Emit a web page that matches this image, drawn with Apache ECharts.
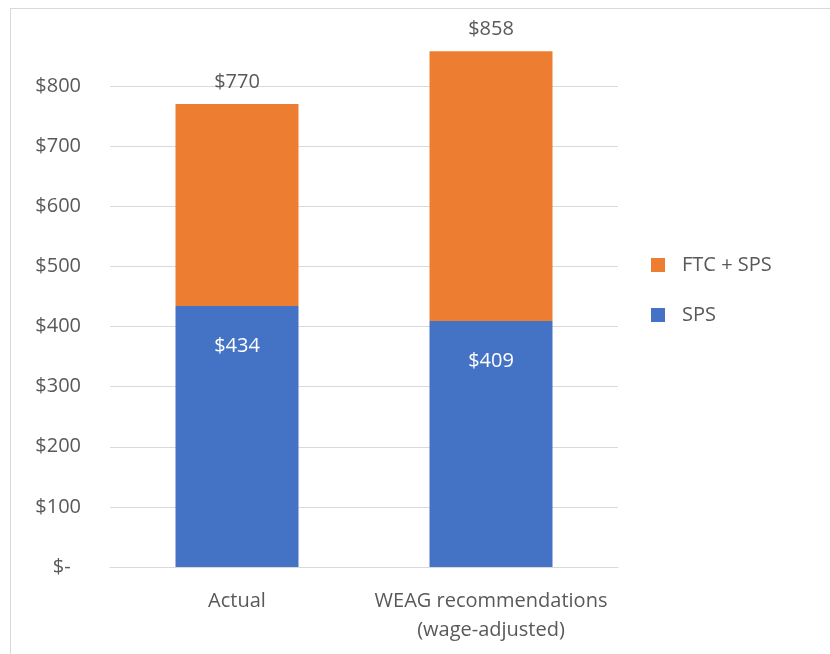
<!DOCTYPE html>
<html>
<head>
<meta charset="utf-8">
<script src="https://cdn.jsdelivr.net/npm/echarts@6/dist/echarts.min.js"></script>
<style>
  html, body { margin: 0; padding: 0; background: #fff; }
  #wrap { position: relative; width: 830px; height: 654px; overflow: hidden; }
  #frame { position: absolute; left: 10px; top: 8px; width: 840px; height: 680px; border: 1px solid #d9d9d9; box-sizing: border-box; }
  #chart { position: absolute; left: 0; top: 0; width: 830px; height: 654px; }
</style>
</head>
<body>
<div id="wrap">
  <div id="frame"></div>
  <div id="chart"></div>
</div>
<script>
// --- data ---
const categories = ['Actual', 'WEAG recommendations\n(wage-adjusted)'];
const spsValues = [434, 409];
const totalValues = [770, 858];
const ftcValues = totalValues.map((t, i) => t - spsValues[i]); // FTC + SPS segment on top

const COLORS = {
  sps: '#4472C4',
  ftc: '#ED7D31',
  text: '#595959',
  grid: '#d9d9d9'
};
const FONT = '"Open Sans", sans-serif';
const FS = 20;

const chart = echarts.init(document.getElementById('chart'));

chart.setOption({
  animation: false,
  backgroundColor: 'transparent',
  grid: { left: 110, right: 212, top: 86, bottom: 87, containLabel: false },
  legend: {
    orient: 'vertical',
    left: 646,
    top: 250,
    itemWidth: 14,
    itemHeight: 14,
    itemGap: 30,
    icon: 'rect',
    textStyle: { color: COLORS.text, fontSize: FS, fontFamily: FONT, padding: [0, 0, 0, 12] },
    data: ['FTC + SPS', 'SPS']
  },
  xAxis: {
    type: 'category',
    data: categories,
    axisLine: { lineStyle: { color: COLORS.grid, width: 1 } },
    axisTick: { show: false },
    axisLabel: { interval: 0, color: COLORS.text, fontSize: FS, fontFamily: FONT, margin: 20, lineHeight: 29 }
  },
  yAxis: {
    type: 'value',
    min: 0,
    max: 800,
    interval: 100,
    axisLine: { show: false },
    axisTick: { show: false },
    splitLine: { lineStyle: { color: COLORS.grid, width: 1 } },
    axisLabel: {
      color: COLORS.text,
      fontSize: FS,
      fontFamily: FONT,
      margin: 29,
      formatter: (v) => v === 0 ? '$-  ' : '$' + v
    }
  },
  series: [
    {
      name: 'SPS',
      type: 'bar',
      stack: 'total',
      barWidth: 123,
      clip: false,
      itemStyle: { color: COLORS.sps },
      label: {
        show: true,
        position: 'insideTop',
        distance: 30,
        color: '#fff',
        fontSize: FS,
        fontFamily: FONT,
        formatter: (p) => '$' + p.value
      },
      data: spsValues
    },
    {
      name: 'FTC + SPS',
      type: 'bar',
      stack: 'total',
      barWidth: 123,
      clip: false,
      itemStyle: { color: COLORS.ftc },
      label: {
        show: true,
        position: 'top',
        distance: 12,
        color: COLORS.text,
        fontSize: FS,
        fontFamily: FONT,
        formatter: (p) => '$' + totalValues[p.dataIndex]
      },
      data: ftcValues
    }
  ]
});
</script>
</body>
</html>
